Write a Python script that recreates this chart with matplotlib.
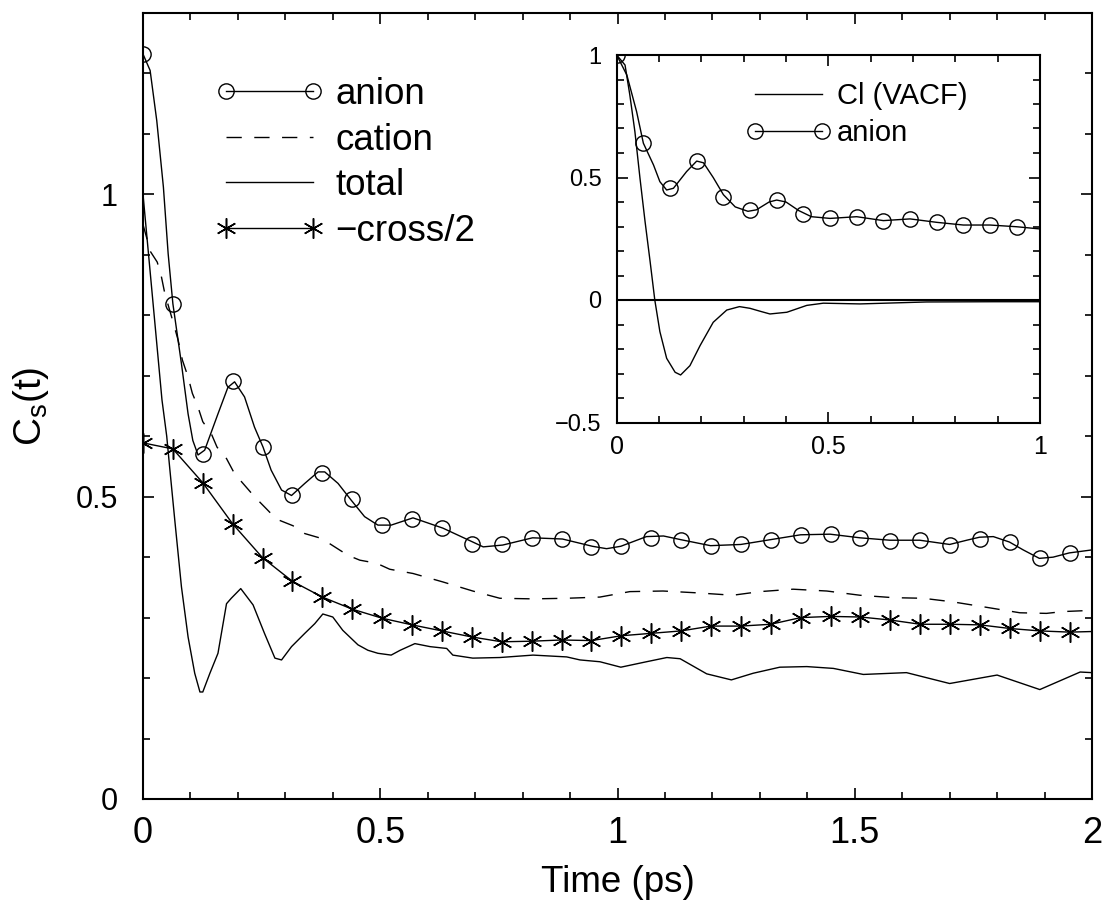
import matplotlib
matplotlib.use("Agg")
import matplotlib.pyplot as plt
from matplotlib.ticker import MultipleLocator
import numpy as np

plt.rcParams['font.family'] = ['Liberation Sans', 'DejaVu Sans']
plt.rcParams['mathtext.fontset'] = 'custom'
plt.rcParams['mathtext.rm'] = 'Liberation Sans'
plt.rcParams['mathtext.it'] = 'Liberation Sans:italic'

# ---------------- main panel data ----------------
anion_t = [0.0, 0.015, 0.029, 0.043, 0.053, 0.063, 0.081, 0.095, 0.105, 0.116, 0.13, 0.158, 0.179,
           0.193, 0.214, 0.235, 0.253, 0.27, 0.292, 0.313, 0.341, 0.369, 0.383, 0.411, 0.439, 0.467,
           0.495, 0.523, 0.569, 0.632, 0.717, 0.758, 0.821, 0.884, 0.947, 0.977, 1.007, 1.061, 1.097,
           1.133, 1.196, 1.26, 1.323, 1.386, 1.448, 1.511, 1.574, 1.637, 1.70, 1.736, 1.763, 1.792,
           1.826, 1.855, 1.889, 1.918, 1.952, 2.0]
anion_c = [1.232, 1.205, 1.122, 1.012, 0.902, 0.819, 0.72, 0.637, 0.593, 0.569, 0.577, 0.637, 0.681,
           0.69, 0.665, 0.615, 0.582, 0.544, 0.511, 0.502, 0.522, 0.541, 0.541, 0.522, 0.494, 0.467,
           0.453, 0.453, 0.465, 0.448, 0.417, 0.420, 0.432, 0.430, 0.418, 0.414, 0.418, 0.434, 0.435,
           0.429, 0.419, 0.421, 0.429, 0.437, 0.438, 0.432, 0.428, 0.428, 0.421, 0.428, 0.433, 0.434,
           0.425, 0.412, 0.398, 0.400, 0.407, 0.412]
anion_mark = [1.232, 0.819, 0.570, 0.691, 0.582, 0.502, 0.540, 0.496, 0.453, 0.463, 0.448, 0.421,
              0.421, 0.431, 0.430, 0.417, 0.418, 0.431, 0.428, 0.419, 0.421, 0.429, 0.436, 0.438,
              0.431, 0.427, 0.428, 0.420, 0.430, 0.425, 0.398, 0.407]

cation_t = [0.0, 0.016, 0.03, 0.039, 0.046, 0.063, 0.074, 0.083, 0.095, 0.104, 0.116, 0.126, 0.144,
            0.156, 0.176, 0.193, 0.214, 0.235, 0.26, 0.281, 0.316, 0.341, 0.376, 0.404, 0.432, 0.457,
            0.492, 0.52, 0.569, 0.632, 0.695, 0.752, 0.822, 0.893, 0.963, 1.026, 1.096, 1.167, 1.243,
            1.30, 1.37, 1.441, 1.511, 1.581, 1.644, 1.707, 1.778, 1.848, 1.904, 1.939, 2.0]
cation_c = [0.95, 0.905, 0.888, 0.863, 0.836, 0.79, 0.759, 0.726, 0.698, 0.671, 0.648, 0.624, 0.604,
            0.582, 0.563, 0.538, 0.519, 0.50, 0.48, 0.463, 0.452, 0.439, 0.431, 0.417, 0.403, 0.395,
            0.39, 0.38, 0.373, 0.359, 0.344, 0.332, 0.331, 0.332, 0.334, 0.343, 0.344, 0.341, 0.337,
            0.343, 0.347, 0.344, 0.337, 0.333, 0.332, 0.326, 0.317, 0.308, 0.307, 0.310, 0.312]

total_t = [0.0, 0.02, 0.04, 0.05, 0.056, 0.067, 0.081, 0.095, 0.109, 0.12, 0.126, 0.141, 0.158,
           0.176, 0.186, 0.206, 0.232, 0.256, 0.278, 0.292, 0.313, 0.341, 0.362, 0.379, 0.40, 0.421,
           0.453, 0.474, 0.495, 0.523, 0.542, 0.573, 0.605, 0.64, 0.653, 0.695, 0.752, 0.822, 0.893,
           0.921, 0.963, 1.007, 1.061, 1.104, 1.132, 1.188, 1.24, 1.286, 1.342, 1.399, 1.455, 1.518,
           1.609, 1.70, 1.80, 1.89, 1.975, 2.0]
total_c = [1.0, 0.83, 0.66, 0.60, 0.55, 0.461, 0.351, 0.268, 0.208, 0.177, 0.177, 0.208, 0.241,
           0.323, 0.332, 0.348, 0.321, 0.274, 0.233, 0.23, 0.252, 0.274, 0.29, 0.306, 0.301, 0.279,
           0.255, 0.246, 0.241, 0.238, 0.246, 0.257, 0.252, 0.249, 0.238, 0.233, 0.234, 0.238, 0.235,
           0.23, 0.227, 0.218, 0.227, 0.234, 0.232, 0.207, 0.197, 0.208, 0.218, 0.219, 0.216, 0.206,
           0.209, 0.191, 0.205, 0.181, 0.21, 0.209]

cross_mark = [0.589, 0.579, 0.523, 0.455, 0.399, 0.360, 0.334, 0.314, 0.299, 0.288, 0.278, 0.268,
              0.260, 0.261, 0.263, 0.262, 0.270, 0.274, 0.278, 0.286, 0.286, 0.289, 0.300, 0.302,
              0.301, 0.296, 0.289, 0.289, 0.288, 0.282, 0.278, 0.276]
cross_end = 0.277

mark_step = 0.063

# ---------------- inset data ----------------
vacf_t = [0.0, 0.0197, 0.031, 0.043, 0.055, 0.067, 0.079, 0.09, 0.102, 0.118, 0.138, 0.151, 0.173,
          0.197, 0.228, 0.26, 0.29, 0.315, 0.339, 0.362, 0.402, 0.449, 0.488, 0.575, 0.732, 0.89, 1.0]
vacf_c = [1.0, 0.959, 0.837, 0.687, 0.497, 0.32, 0.156, 0.0, -0.129, -0.238, -0.295, -0.306, -0.268,
          -0.186, -0.091, -0.041, -0.027, -0.034, -0.046, -0.057, -0.05, -0.022, -0.013, -0.016,
          -0.008, -0.007, -0.007]

ins_anion_t = [0.0, 0.024, 0.047, 0.063, 0.087, 0.102, 0.118, 0.134, 0.165, 0.189, 0.205, 0.228,
               0.252, 0.28, 0.31, 0.33, 0.36, 0.378, 0.40, 0.43, 0.46, 0.504, 0.567, 0.63, 0.693,
               0.756, 0.819, 0.882, 0.945, 1.0]
ins_anion_c = [1.0, 0.918, 0.769, 0.64, 0.551, 0.483, 0.449, 0.456, 0.524, 0.567, 0.56, 0.50,
               0.43, 0.38, 0.362, 0.368, 0.40, 0.408, 0.40, 0.365, 0.34, 0.333, 0.34, 0.324, 0.331,
               0.317, 0.306, 0.306, 0.299, 0.29]
ins_anion_mark = [1.0, 0.64, 0.456, 0.567, 0.422, 0.367, 0.408, 0.351, 0.333, 0.34, 0.324, 0.331,
                  0.317, 0.306, 0.306, 0.299]

# ---------------- figure ----------------
fig = plt.figure(figsize=(11.03, 9.0), dpi=100)
ax = fig.add_axes([143/1103, 1-799/900, (1092-143)/1103, (799-13)/900])

star = (6, 2, 0)
lw = 1.0
ms_c = 11
ms_s = 14.5
dash = (11, 9)

mark_t_a = [mark_step*i for i in range(len(anion_mark))]
mark_t_x = [mark_step*i for i in range(len(cross_mark))]

ax.plot(anion_t, anion_c, color='black', lw=lw)
ax.plot(mark_t_a, anion_mark, linestyle='none', marker='o', ms=ms_c, mfc='none', mec='black', mew=1.0)
ax.plot(cation_t, cation_c, color='black', lw=lw, dashes=dash)
ax.plot(total_t, total_c, color='black', lw=lw)
ax.plot(mark_t_x + [2.0], cross_mark + [cross_end], color='black', lw=lw)
ax.plot(mark_t_x, cross_mark, linestyle='none', marker=star, ms=ms_s, mec='black', mew=1.1)

h1, = ax.plot([], [], color='black', lw=lw, marker='o', ms=ms_c, mfc='none', mec='black', mew=1.0)
h2, = ax.plot([], [], color='black', lw=lw, dashes=dash)
h3, = ax.plot([], [], color='black', lw=lw)
h4, = ax.plot([], [], color='black', lw=lw, marker=star, ms=ms_s, mec='black', mew=1.1)
ax.legend([h1, h2, h3, h4], ['anion', 'cation', 'total', '\u2212cross/2'],
          loc='upper left', bbox_to_anchor=(0.0759, 0.9186), frameon=False, numpoints=2,
          fontsize=26.5, handlelength=2.96, handletextpad=0.3, labelspacing=0.29,
          borderpad=0, borderaxespad=0)

ax.set_xlim(0, 2)
ax.set_ylim(0, 1.3)
ax.set_xticks([0, 0.5, 1, 1.5, 2])
ax.set_xticklabels(['0', '0.5', '1', '1.5', '2'])
ax.set_yticks([0, 0.5, 1])
ax.set_yticklabels(['0', '0.5', '1'])
ax.xaxis.set_minor_locator(MultipleLocator(0.1))
ax.yaxis.set_minor_locator(MultipleLocator(0.1))
ax.tick_params(which='both', direction='in', top=True, right=True, width=1.2)
ax.tick_params(which='major', length=8)
ax.tick_params(which='minor', length=5)
ax.tick_params(axis='x', which='major', labelsize=26, pad=12)
ax.tick_params(axis='y', which='major', labelsize=22, pad=18)
for s in ax.spines.values():
    s.set_linewidth(1.5)
ax.set_xlabel('Time (ps)', fontsize=26.5, labelpad=10)
ax.set_ylabel('C$_\\mathrm{s}$(t)', fontsize=28, labelpad=18)

# ---------------- inset ----------------
ins = fig.add_axes([616.7/1103, 1-422.5/900, (1040-616.7)/1103, (422.5-55)/900])
ins.axhline(0, color='black', lw=1.5)
ins.plot(vacf_t, vacf_c, color='black', lw=lw)
ins.plot(ins_anion_t, ins_anion_c, color='black', lw=lw)
mark_t_i = [mark_step*i for i in range(len(ins_anion_mark))]
ins.plot(mark_t_i, ins_anion_mark, linestyle='none', marker='o', ms=ms_c, mfc='none', mec='black', mew=1.0)
g1, = ins.plot([], [], color='black', lw=lw)
g2, = ins.plot([], [], color='black', lw=lw, marker='o', ms=ms_c, mfc='none', mec='black', mew=1.0)
ins.legend([g1, g2], ['Cl (VACF)', 'anion'], loc='upper left', bbox_to_anchor=(0.306, 0.927),
           frameon=False, numpoints=2, fontsize=21, handlelength=2.9, handletextpad=0.22,
           labelspacing=0.32, borderpad=0, borderaxespad=0)
ins.set_xlim(0, 1)
ins.set_ylim(-0.5, 1)
ins.set_xticks([0, 0.5, 1])
ins.set_xticklabels(['0', '0.5', '1'])
ins.set_yticks([-0.5, 0, 0.5, 1])
ins.set_yticklabels(['\u22120.5', '0', '0.5', '1'])
ins.xaxis.set_minor_locator(MultipleLocator(0.1))
ins.yaxis.set_minor_locator(MultipleLocator(0.1))
ins.tick_params(which='both', direction='in', top=True, right=True, width=1.2)
ins.tick_params(which='major', length=8)
ins.tick_params(which='minor', length=5)
ins.tick_params(axis='x', which='major', labelsize=18, pad=9)
ins.tick_params(axis='y', which='major', labelsize=17, pad=11)
for s in ins.spines.values():
    s.set_linewidth(1.5)

fig.savefig('out.png', dpi=100)
